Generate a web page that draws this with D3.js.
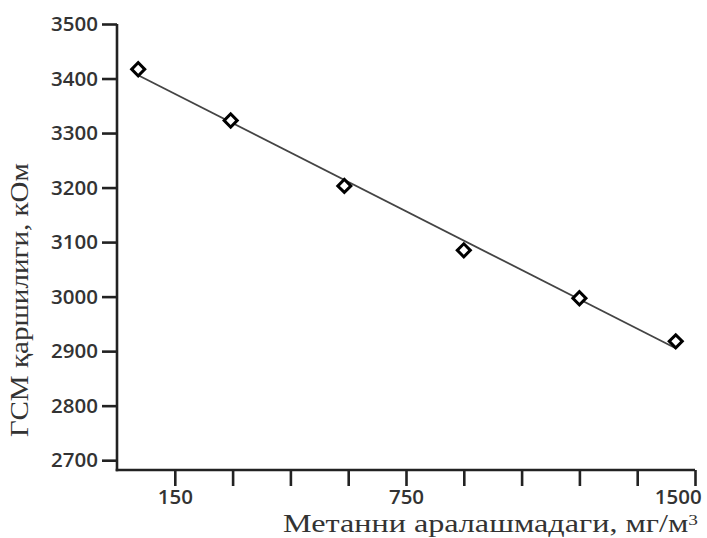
<!DOCTYPE html>
<meta charset="utf-8">
<title>ГСМ каршилиги</title>
<style>
  body { margin: 0; background: #fff; }
  .tick text { font-family: "Open Sans", sans-serif; font-weight: 600; fill: #333; }
  .title { font-family: "Liberation Serif", serif; fill: #333; }
</style>
<body>
<script src="https://cdn.jsdelivr.net/npm/d3@7"></script>
<script>

var width = 707,
    height = 538;

// concentration of methane, mg/m3
var concentration = [55, 295, 590, 900, 1200, 1450];
// sensor resistance, kOhm
var resistance = [3417, 3323, 3203, 3085, 2997, 2918];

var yTicks = [2700, 2800, 2900, 3000, 3100, 3200, 3300, 3400, 3500];
var xTicks = [150, 300, 450, 600, 750, 900, 1050, 1200, 1350, 1500];
var xLabels = [150, 750, 1500];

var x = d3.scaleLinear().domain([0, 1500]).range([117, 695]);
var y = d3.scaleLinear().domain([2682, 3500]).range([470, 24]);

var svg = d3.select("body").append("svg")
    .attr("width", width)
    .attr("height", height);

var points = concentration.map(function(c, i) { return {x: c, y: resistance[i]}; });

// least squares trend line
var mx = d3.mean(points, d => d.x),
    my = d3.mean(points, d => d.y);
var slope = d3.sum(points, d => (d.x - mx) * (d.y - my)) / d3.sum(points, d => (d.x - mx) * (d.x - mx));
var fit = function(v) { return my + slope * (v - mx); };
var x0 = d3.min(concentration), x1 = d3.max(concentration);

svg.append("line")
    .attr("x1", x(x0)).attr("y1", y(fit(x0)))
    .attr("x2", x(x1)).attr("y2", y(fit(x1)))
    .attr("stroke", "#444")
    .attr("stroke-width", 1.8);

// axes
var yAxis = svg.append("g")
    .attr("transform", "translate(" + x(0) + ",0)")
    .call(d3.axisLeft(y).tickValues(yTicks).tickSize(15).tickPadding(4).tickSizeOuter(0)
      .tickFormat(d3.format("d")));

var xAxis = svg.append("g")
    .attr("transform", "translate(0," + y.range()[0] + ")")
    .call(d3.axisBottom(x).tickValues(xTicks).tickSize(16).tickPadding(3).tickSizeOuter(0)
      .tickFormat(function(d) { return xLabels.indexOf(d) >= 0 ? d : ""; }));

// drop the empty labels of unlabelled ticks
xAxis.selectAll(".tick text").filter(function(d) { return xLabels.indexOf(d) < 0; }).remove();

[yAxis, xAxis].forEach(function(g) {
  g.select(".domain").attr("stroke", "#222").attr("stroke-width", 2.6);
  g.selectAll(".tick line").attr("stroke", "#222").attr("stroke-width", 2.6);
  g.selectAll(".tick text").attr("font-size", 20.5);
});
yAxis.select(".domain").attr("d", "M0," + y.range()[1] + "V" + (y.range()[0] + 1.3));
xAxis.select(".domain").attr("d", "M" + (x.range()[0] - 1.3) + ",0H" + x.range()[1]);

xAxis.selectAll(".tick text")
    .filter(function(d) { return d === 1500; })
    .attr("text-anchor", "end")
    .attr("dx", "0.3em");

// markers
svg.selectAll(".pt")
    .data(points)
  .enter().append("path")
    .attr("class", "pt")
    .attr("d", d3.symbol().type(d3.symbolSquare).size(85))
    .attr("transform", function(d) { return "translate(" + x(d.x) + "," + y(d.y) + ") rotate(45)"; })
    .attr("fill", "#fff")
    .attr("stroke", "#000")
    .attr("stroke-width", 3);

// titles
svg.append("text")
    .attr("class", "title")
    .attr("x", 283)
    .attr("y", 532)
    .attr("font-size", 25)
    .attr("textLength", 415)
    .attr("lengthAdjust", "spacingAndGlyphs")
    .html("Метанни аралашмадаги, мг/м<tspan font-size='15' dy='-7'>3</tspan>");

svg.append("text")
    .attr("class", "title")
    .attr("transform", "translate(28,437) rotate(-90)")
    .attr("font-size", 25)
    .attr("textLength", 274)
    .attr("lengthAdjust", "spacingAndGlyphs")
    .text("ГСМ қаршилиги, кОм");

</script>
</body>
